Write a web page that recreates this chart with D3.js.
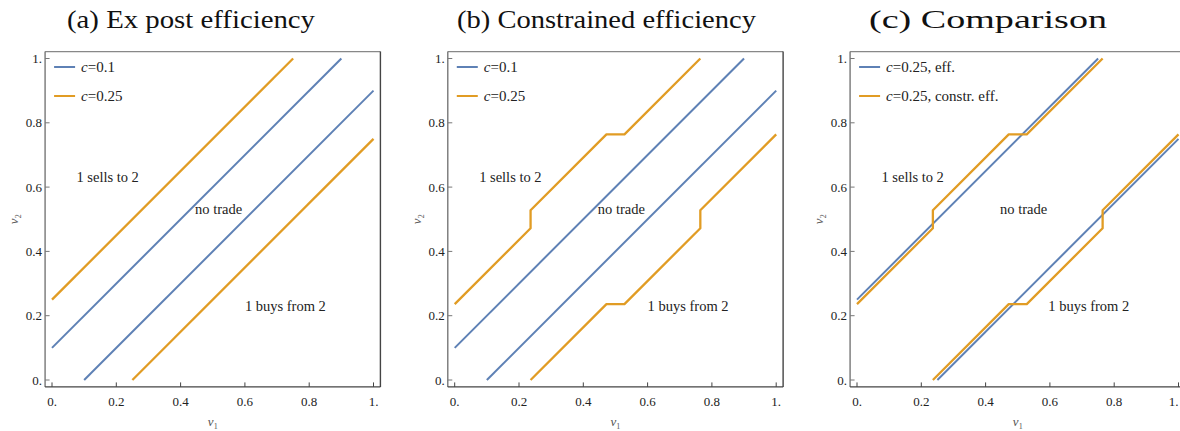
<!DOCTYPE html>
<html>
<head>
<meta charset="utf-8">
<script src="https://cdn.jsdelivr.net/npm/d3@7"></script>
<style>
  body { margin: 0; background: #fff; }
</style>
</head>
<body>
<div id="chart"></div>
<script>
// panel titles and where they sit (left edge, width)
const titles = ['(a) Ex post efficiency', '(b) Constrained efficiency', '(c) Comparison'];
const titleLeft = [67, 457, 869];
const titleWidth = [248, 299, 238];

const ticks = [0, 0.2, 0.4, 0.6, 0.8, 1];
const tickLabels = ['0.', '0.2', '0.4', '0.6', '0.8', '1.'];

// boundaries: [v1, v2] points
const effUpper10 = [[0, 0.1], [0.9, 1]];
const effLower10 = [[0.1, 0], [1, 0.9]];
const effUpper25 = [[0, 0.25], [0.75, 1]];
const effLower25 = [[0.25, 0], [1, 0.75]];
const conUpper25 = [[0, 0.236], [0.236, 0.472], [0.236, 0.528], [0.472, 0.764], [0.528, 0.764], [0.764, 1]];
const conLower25 = [[0.236, 0], [0.472, 0.236], [0.528, 0.236], [0.764, 0.472], [0.764, 0.528], [1, 0.764]];

const legendA = ['=0.1', '=0.25'];
const legendB = ['=0.1', '=0.25'];
const legendC = ['=0.25, eff.', '=0.25, constr. eff.'];

const regionLabels = ['1 sells to 2', 'no trade', '1 buys from 2'];
const regionPosA = [[0.076, 0.615], [0.445, 0.515], [0.6, 0.215]];
const regionPosC = [[0.076, 0.615], [0.445, 0.515], [0.595, 0.215]];

const COLORS = { blue: '#5E81B5', orange: '#E19C24' };
const FONT = '"Liberation Serif", "Times New Roman", Tinos, serif';

const W = 1180, H = 431;
const unit = 321.5;
const panelX0 = [52, 454.7, 857];
const yZero = 380;

const svg = d3.select('#chart').append('svg')
  .attr('width', W).attr('height', H)
  .attr('font-family', FONT);

const panels = [
  { series: [[effUpper10, COLORS.blue], [effLower10, COLORS.blue], [effUpper25, COLORS.orange], [effLower25, COLORS.orange]],
    legend: legendA, regions: regionPosA },
  { series: [[effUpper10, COLORS.blue], [effLower10, COLORS.blue], [conUpper25, COLORS.orange], [conLower25, COLORS.orange]],
    legend: legendB, regions: regionPosA },
  { series: [[effUpper25, COLORS.blue], [effLower25, COLORS.blue], [conUpper25, COLORS.orange], [conLower25, COLORS.orange]],
    legend: legendC, regions: regionPosC }
];

panels.forEach(function (p, i) {
  drawPanel(p, i);
});

function drawPanel(p, i) {
  let x = d3.scaleLinear().domain([0, 1]).range([panelX0[i], panelX0[i] + unit]);
  let y = d3.scaleLinear().domain([0, 1]).range([yZero, yZero - unit]);
  let pad = 0.0215;
  let fx0 = x(-pad), fx1 = x(1 + pad), fy0 = y(-pad), fy1 = y(1 + pad);

  let g = svg.append('g');

  // title
  g.append('text')
    .attr('x', titleLeft[i]).attr('y', 28)
    .attr('textLength', titleWidth[i])
    .attr('lengthAdjust', 'spacingAndGlyphs')
    .attr('font-family', FONT)
    .style('font-size', '25px')
    .style('fill', '#111')
    .text(titles[i]);

  // lines
  let line = d3.line().x(function (d) { return x(d[0]); }).y(function (d) { return y(d[1]); });
  p.series.forEach(function (s) {
    g.append('path')
      .attr('d', line(s[0]))
      .attr('fill', 'none')
      .attr('stroke', s[1])
      .attr('stroke-width', s[1] === COLORS.orange ? 2.3 : 2)
      .attr('stroke-linejoin', 'round');
  });

  // frame
  g.append('line').attr('x1', fx0).attr('x2', fx1).attr('y1', fy1).attr('y2', fy1).attr('stroke', '#888').attr('stroke-width', 1.4);
  g.append('line').attr('x1', fx1).attr('x2', fx1).attr('y1', fy1).attr('y2', fy0).attr('stroke', '#444').attr('stroke-width', 1.4);
  g.append('line').attr('x1', fx0).attr('x2', fx0).attr('y1', fy1).attr('y2', fy0).attr('stroke', '#777').attr('stroke-width', 1.4);
  g.append('line').attr('x1', fx0).attr('x2', fx1).attr('y1', fy0).attr('y2', fy0).attr('stroke', '#444').attr('stroke-width', 1.4);

  // ticks
  ticks.forEach(function (t, k) {
    g.append('line').attr('x1', x(t)).attr('x2', x(t)).attr('y1', fy0).attr('y2', fy0 - 4.5).attr('stroke', '#444');
    g.append('line').attr('x1', fx0).attr('x2', fx0 + 4.5).attr('y1', y(t)).attr('y2', y(t)).attr('stroke', '#777');
    g.append('text')
      .attr('x', x(t)).attr('y', fy0 + 19)
      .attr('text-anchor', i === 2 && k === 5 ? 'end' : 'middle')
      .attr('font-family', FONT)
      .style('font-size', '13px').style('fill', '#222')
      .text(tickLabels[k]);
    g.append('text')
      .attr('x', fx0 - 3).attr('y', y(t) + 4.5)
      .attr('text-anchor', 'end')
      .attr('font-family', FONT)
      .style('font-size', '13px').style('fill', '#222')
      .text(tickLabels[k]);
  });

  // axis labels
  let xl = g.append('text')
    .attr('x', x(0.5)).attr('y', 426)
    .attr('text-anchor', 'middle')
    .attr('font-family', FONT)
    .style('font-size', '13px').style('fill', '#555');
  xl.append('tspan').style('font-style', 'italic').text('v');
  xl.append('tspan').attr('dy', 3).style('font-size', '8px').text('1');

  let yl = g.append('text')
    .attr('transform', 'translate(' + (fx0 - 27) + ',' + y(0.5) + ') rotate(-90)')
    .attr('text-anchor', 'middle')
    .attr('font-family', FONT)
    .style('font-size', '13px').style('fill', '#555');
  yl.append('tspan').style('font-style', 'italic').text('v');
  yl.append('tspan').attr('dy', 3).style('font-size', '8px').text('2');

  // legend
  p.legend.forEach(function (lab, k) {
    let ly = 67 + k * 29;
    g.append('line')
      .attr('x1', fx0 + 9).attr('x2', fx0 + 30)
      .attr('y1', ly).attr('y2', ly)
      .attr('stroke', k === 0 ? COLORS.blue : COLORS.orange)
      .attr('stroke-width', 2);
    let t = g.append('text')
      .attr('x', fx0 + 36).attr('y', ly + 5)
      .attr('font-family', FONT)
      .style('font-size', '15px').style('fill', '#222');
    t.append('tspan').style('font-style', 'italic').text('c');
    t.append('tspan').text(lab);
  });

  // region labels
  regionLabels.forEach(function (lab, k) {
    g.append('text')
      .attr('x', x(p.regions[k][0])).attr('y', y(p.regions[k][1]))
      .attr('font-family', FONT)
      .style('font-size', '14.5px').style('fill', '#222')
      .text(lab);
  });
}
</script>
</body>
</html>
